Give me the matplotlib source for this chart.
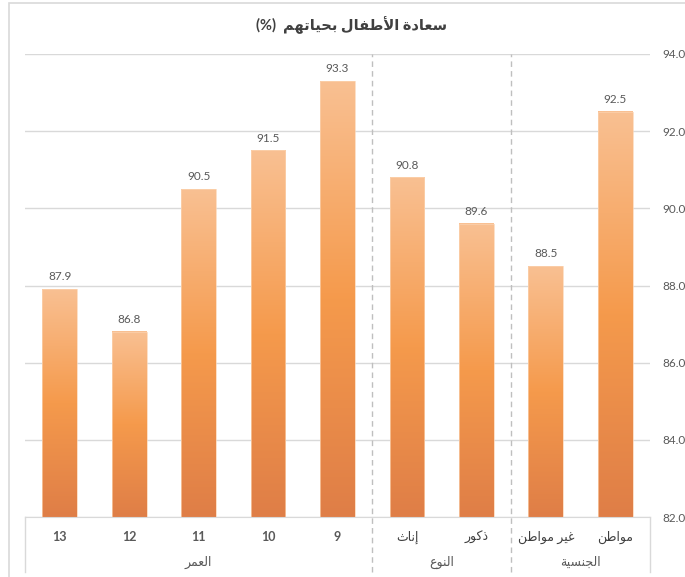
import numpy as np
import matplotlib
matplotlib.use('Agg')
import matplotlib.pyplot as plt
from matplotlib.colors import LinearSegmentedColormap
from matplotlib.patches import Rectangle
import matplotlib.transforms as mtransforms

plt.rcParams['font.family'] = ['Lato', 'DejaVu Sans']

# data, left to right as in the chart
categories = ['13', '12', '11', '10', '9', 'إناث', 'ذكور', 'غير مواطن', 'مواطن']
values = [87.9, 86.8, 90.5, 91.5, 93.3, 90.8, 89.6, 88.5, 92.5]
groups = ['العمر', 'النوع', 'الجنسية']
group_sizes = [5, 2, 2]
title_ar = 'سعادة الأطفال بحياتهم'
yticks = [82, 84, 86, 88, 90, 92, 94]

# matplotlib has no arabic shaping, so do it by hand with presentation forms
# (isolated, final, initial, medial)
FORMS = {
    'ا': ('\uFE8D', '\uFE8E', None, None),
    'أ': ('\uFE83', '\uFE84', None, None),
    'إ': ('\uFE87', '\uFE88', None, None),
    'ب': ('\uFE8F', '\uFE90', '\uFE91', '\uFE92'),
    'ة': ('\uFE93', '\uFE94', None, None),
    'ت': ('\uFE95', '\uFE96', '\uFE97', '\uFE98'),
    'ث': ('\uFE99', '\uFE9A', '\uFE9B', '\uFE9C'),
    'ج': ('\uFE9D', '\uFE9E', '\uFE9F', '\uFEA0'),
    'ح': ('\uFEA1', '\uFEA2', '\uFEA3', '\uFEA4'),
    'د': ('\uFEA9', '\uFEAA', None, None),
    'ذ': ('\uFEAB', '\uFEAC', None, None),
    'ر': ('\uFEAD', '\uFEAE', None, None),
    'س': ('\uFEB1', '\uFEB2', '\uFEB3', '\uFEB4'),
    'ط': ('\uFEC1', '\uFEC2', '\uFEC3', '\uFEC4'),
    'ع': ('\uFEC9', '\uFECA', '\uFECB', '\uFECC'),
    'غ': ('\uFECD', '\uFECE', '\uFECF', '\uFED0'),
    'ف': ('\uFED1', '\uFED2', '\uFED3', '\uFED4'),
    'ك': ('\uFED9', '\uFEDA', '\uFEDB', '\uFEDC'),
    'ل': ('\uFEDD', '\uFEDE', '\uFEDF', '\uFEE0'),
    'م': ('\uFEE1', '\uFEE2', '\uFEE3', '\uFEE4'),
    'ن': ('\uFEE5', '\uFEE6', '\uFEE7', '\uFEE8'),
    'ه': ('\uFEE9', '\uFEEA', '\uFEEB', '\uFEEC'),
    'و': ('\uFEED', '\uFEEE', None, None),
    'ي': ('\uFEF1', '\uFEF2', '\uFEF3', '\uFEF4'),
    'لا': ('\uFEFB', '\uFEFC', None, None),
    'لأ': ('\uFEF7', '\uFEF8', None, None),
    'لإ': ('\uFEF9', '\uFEFA', None, None),
}


def shape(text):
    if not any(c in FORMS for c in text):
        return text
    tokens = []
    i = 0
    while i < len(text):
        if text[i:i + 2] in FORMS:
            tokens.append(text[i:i + 2])
            i += 2
        else:
            tokens.append(text[i])
            i += 1
    out = []
    for k, t in enumerate(tokens):
        if t not in FORMS:
            out.append(t)
            continue
        prev_j = k > 0 and tokens[k - 1] in FORMS and FORMS[tokens[k - 1]][2] is not None
        next_j = FORMS[t][2] is not None and k + 1 < len(tokens) and tokens[k + 1] in FORMS
        f = FORMS[t]
        if prev_j and next_j:
            out.append(f[3])
        elif prev_j:
            out.append(f[1])
        elif next_j:
            out.append(f[2])
        else:
            out.append(f[0])
    return ''.join(reversed(out))


grey = '#595959'
grid_c = '#D9D9D9'

fig = plt.figure(figsize=(6.85, 5.77), dpi=100)
ax = fig.add_axes([25 / 685, 60 / 577, 625 / 685, 463 / 577])

cmap = LinearSegmentedColormap.from_list(
    'bar', [(0, '#DF7E47'), (0.5, '#F59A4C'), (1, '#F9C092')])
grad = np.linspace(1, 0, 256).reshape(-1, 1)

width = 0.5
x = np.arange(len(categories))
for xi, v in zip(x, values):
    ax.imshow(grad, cmap=cmap, extent=[xi - width / 2, xi + width / 2, yticks[0], v],
              aspect='auto', zorder=2, interpolation='bilinear')
    ax.add_patch(Rectangle((xi - width / 2, yticks[0]), width, v - yticks[0],
                           fill=False, edgecolor='#FBD3B0', lw=0.5, zorder=3))
    ax.annotate(f'{v:.1f}', (xi, v), xytext=(0, 5), textcoords='offset points',
                ha='center', va='bottom', fontsize=8.5, color=grey)

ax.set_xlim(-0.5, len(categories) - 0.5)
ax.set_ylim(yticks[0], yticks[-1])
ax.set_yticks(yticks)
ax.set_yticklabels([f'{t:.1f}' for t in yticks])
ax.yaxis.tick_right()
ax.tick_params(axis='y', length=0, pad=9, labelsize=8.5, labelcolor=grey)
ax.grid(axis='y', color=grid_c, lw=1)
ax.set_axisbelow(True)

ax.set_xticks(x)
ax.set_xticklabels([shape(c) for c in categories])
ax.tick_params(axis='x', length=0, pad=10, labelsize=9, labelcolor=grey)
for lab, c in zip(ax.get_xticklabels(), categories):
    if c.isdigit():
        lab.set_fontweight('bold')
    else:
        lab.set_color('#404040')

for s in ['top', 'left', 'right']:
    ax.spines[s].set_visible(False)
ax.spines['bottom'].set_color(grid_c)

# category box and group separators
trans = mtransforms.blended_transform_factory(ax.transData, ax.transAxes)
low = -55 / 463
ax.plot([-0.5, -0.5], [low, 0], transform=trans, color=grid_c, lw=1, clip_on=False)
ax.plot([len(categories) - 0.5] * 2, [low, 0], transform=trans, color=grid_c, lw=1, clip_on=False)
start = 0
for g, n in zip(groups, group_sizes):
    ax.text(start + (n - 1) / 2, -45 / 463, shape(g), transform=trans, ha='center',
            va='center', fontsize=9, color=grey)
    start += n
    if start < len(categories):
        ax.plot([start - 0.5] * 2, [low, 1], transform=trans, color='#BFBFBF', lw=1,
                ls=(0, (4, 3)), clip_on=False)

# chart border
fig.patches.append(Rectangle((9 / 685, -0.1), 1.2, 1.1 - 2.5 / 577, transform=fig.transFigure,
                             fill=False, edgecolor=grid_c, lw=1.2))

fig.text(352 / 685, 1 - 25 / 577, '(%)  ' + shape(title_ar), ha='center', va='center',
         fontsize=10.5, fontweight='bold', color='#404040')

fig.savefig('out.png', dpi=100)
